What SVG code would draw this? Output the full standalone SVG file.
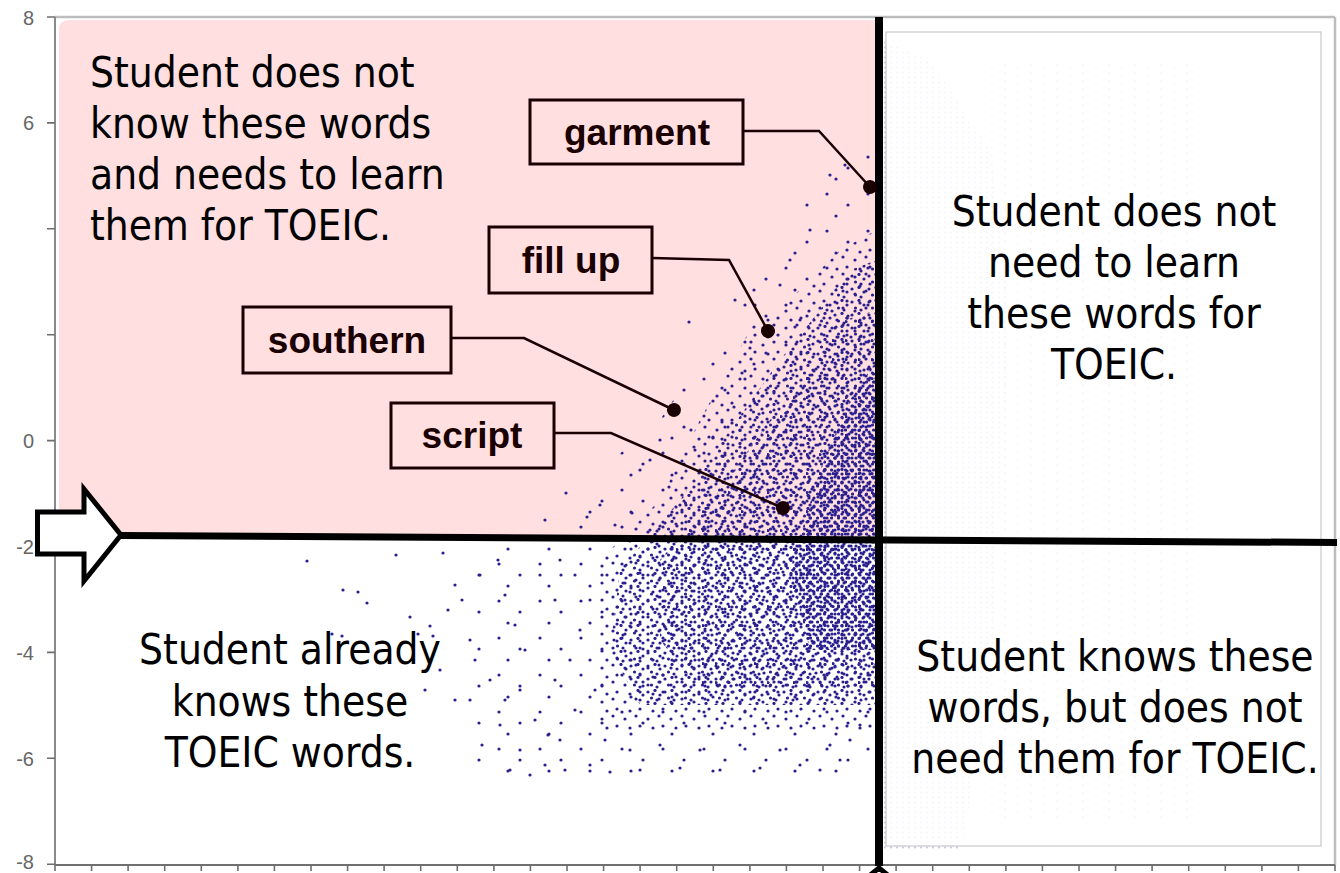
<svg xmlns="http://www.w3.org/2000/svg" width="1340" height="873" viewBox="0 0 1340 873">
<style>
.q{font-family:"DejaVu Sans Condensed","Liberation Sans",Arial,sans-serif;font-size:42px;fill:#000}
.c{text-anchor:middle}
.tag{font-family:"Liberation Sans",Arial,sans-serif;font-weight:bold;font-size:37px;fill:#1a0000;text-anchor:middle}
.box{fill:#ffdfdf;stroke:#1a0000;stroke-width:3}
.lead{fill:none;stroke:#1a0000;stroke-width:2.5;marker-end:url(#dot)}
.ax{font-family:"Liberation Sans",Arial,sans-serif;font-size:20px;fill:#666;text-anchor:end}
.sd{fill:#2a1f8f}
.tk{stroke:#6e6e6e;stroke-width:1.6}
</style>
<defs>
<marker id="dot" viewBox="-7.5 -7.5 15 15" markerWidth="15" markerHeight="15" markerUnits="userSpaceOnUse" refX="0" refY="0" orient="auto"><circle r="7" fill="#1a0000"/></marker>
<pattern id="p1" width="17" height="13" patternUnits="userSpaceOnUse"><circle class="sd" cx="2" cy="3" r="1.6"/><circle class="sd" cx="9" cy="1.5" r="1.6"/><circle class="sd" cx="14" cy="6" r="1.6"/><circle class="sd" cx="5.5" cy="9" r="1.6"/><circle class="sd" cx="11" cy="11" r="1.6"/></pattern>
<pattern id="p2" width="13" height="19" patternUnits="userSpaceOnUse"><circle class="sd" cx="3" cy="2" r="1.6"/><circle class="sd" cx="10" cy="8" r="1.6"/><circle class="sd" cx="6" cy="14" r="1.6"/><circle class="sd" cx="1" cy="17.5" r="1.6"/></pattern>
<pattern id="p3" width="23" height="17" patternUnits="userSpaceOnUse"><circle class="sd" cx="4" cy="5" r="1.6"/><circle class="sd" cx="15" cy="2" r="1.6"/><circle class="sd" cx="19" cy="12" r="1.6"/><circle class="sd" cx="9" cy="14" r="1.6"/></pattern>
<pattern id="p4" width="41" height="37" patternUnits="userSpaceOnUse"><circle class="sd" cx="7" cy="9" r="1.6"/><circle class="sd" cx="28" cy="20" r="1.6"/><circle class="sd" cx="16" cy="31" r="1.6"/></pattern>
<pattern id="p5" width="7" height="8" patternUnits="userSpaceOnUse"><circle class="sd" cx="2" cy="2" r="1.6"/><circle class="sd" cx="5.5" cy="6" r="1.6"/></pattern>
<pattern id="pf" width="6" height="5" patternUnits="userSpaceOnUse"><circle cx="3" cy="2.5" r="1.1" fill="#c4c4e4"/></pattern>
<pattern id="pc" width="26" height="8" patternUnits="userSpaceOnUse"><circle cx="4" cy="4" r="1.1" fill="#c4c4e4"/><circle cx="17" cy="1" r="1.1" fill="#c4c4e4"/></pattern>
</defs>
<rect width="1340" height="873" fill="#fff"/>

<!-- faint data right of the split -->
<g id="faint-data">
<polygon points="879,40 930,60 990,150 1010,300 1000,500 990,700 960,850 879,850" fill="url(#pf)" opacity="0.9"/>
<polygon points="990,60 1200,60 1200,820 990,820" fill="url(#pc)" opacity="0.6"/>
</g>

<!-- pink quadrant -->
<path id="learn-zone" d="M59,30 Q59,20 69,20 L875,20 L875,537 L59,533 Z" fill="#ffdfdf"/>

<!-- scatter data -->
<g id="scatter">
<polygon points="470,548 560,540 600,470 660,420 720,330 790,230 830,160 877,150 877,778 600,782 470,778" fill="url(#p4)"/>
<polygon points="600,560 660,500 700,420 750,330 800,290 840,250 877,230 877,730 600,730" fill="url(#p3)"/>
<polygon points="620,570 680,500 730,430 780,360 820,310 850,270 877,260 877,705 640,705 610,650" fill="url(#p1)"/>
<polygon points="660,560 720,490 770,420 810,370 845,320 877,310 877,690 700,690 660,640" fill="url(#p2)"/>
<polygon points="790,570 820,470 850,400 877,360 877,650 810,650" fill="url(#p5)"/>
<g class="sd">
<circle cx="307" cy="561" r="1.6"/><circle cx="396" cy="555" r="1.6"/><circle cx="443" cy="553" r="1.6"/><circle cx="343" cy="590" r="1.6"/><circle cx="358" cy="592" r="1.6"/><circle cx="367" cy="603" r="1.6"/><circle cx="410" cy="617" r="1.6"/><circle cx="430" cy="626" r="1.6"/><circle cx="418" cy="634" r="1.6"/><circle cx="433" cy="636" r="1.6"/><circle cx="332" cy="634" r="1.6"/><circle cx="342" cy="636" r="1.6"/><circle cx="448" cy="610" r="1.6"/><circle cx="455" cy="585" r="1.6"/><circle cx="470" cy="640" r="1.6"/><circle cx="462" cy="600" r="1.6"/><circle cx="480" cy="575" r="1.6"/><circle cx="498" cy="560" r="1.6"/><circle cx="505" cy="595" r="1.6"/><circle cx="515" cy="625" r="1.6"/><circle cx="525" cy="650" r="1.6"/><circle cx="490" cy="680" r="1.6"/><circle cx="505" cy="700" r="1.6"/><circle cx="520" cy="690" r="1.6"/><circle cx="535" cy="720" r="1.6"/><circle cx="548" cy="735" r="1.6"/><circle cx="520" cy="750" r="1.6"/><circle cx="545" cy="765" r="1.6"/><circle cx="560" cy="740" r="1.6"/><circle cx="575" cy="710" r="1.6"/><circle cx="500" cy="725" r="1.6"/><circle cx="482" cy="745" r="1.6"/><circle cx="470" cy="700" r="1.6"/><circle cx="510" cy="770" r="1.6"/><circle cx="530" cy="775" r="1.6"/><circle cx="565" cy="770" r="1.6"/><circle cx="590" cy="765" r="1.6"/><circle cx="610" cy="772" r="1.6"/><circle cx="640" cy="770" r="1.6"/><circle cx="680" cy="768" r="1.6"/><circle cx="720" cy="770" r="1.6"/><circle cx="760" cy="768" r="1.6"/><circle cx="800" cy="765" r="1.6"/><circle cx="820" cy="770" r="1.6"/><circle cx="840" cy="760" r="1.6"/><circle cx="475" cy="660" r="1.6"/><circle cx="455" cy="700" r="1.6"/><circle cx="440" cy="670" r="1.6"/><circle cx="425" cy="690" r="1.6"/><circle cx="560" cy="560" r="1.6"/><circle cx="575" cy="575" r="1.6"/><circle cx="540" cy="575" r="1.6"/><circle cx="555" cy="600" r="1.6"/><circle cx="580" cy="630" r="1.6"/><circle cx="590" cy="600" r="1.6"/><circle cx="570" cy="660" r="1.6"/><circle cx="555" cy="680" r="1.6"/><circle cx="595" cy="690" r="1.6"/><circle cx="605" cy="740" r="1.6"/><circle cx="630" cy="750" r="1.6"/><circle cx="660" cy="745" r="1.6"/><circle cx="700" cy="750" r="1.6"/><circle cx="740" cy="745" r="1.6"/><circle cx="780" cy="750" r="1.6"/><circle cx="830" cy="745" r="1.6"/><circle cx="850" cy="740" r="1.6"/><circle cx="860" cy="725" r="1.6"/>
<circle cx="566" cy="493" r="1.6"/><circle cx="587" cy="517" r="1.6"/><circle cx="632" cy="513" r="1.6"/><circle cx="669" cy="487" r="1.6"/><circle cx="691" cy="430" r="1.6"/><circle cx="713" cy="437" r="1.6"/><circle cx="722" cy="420" r="1.6"/><circle cx="734" cy="407" r="1.6"/><circle cx="732" cy="423" r="1.6"/><circle cx="689" cy="322" r="1.6"/><circle cx="750" cy="348" r="1.6"/><circle cx="742" cy="373" r="1.6"/><circle cx="758" cy="393" r="1.6"/><circle cx="600" cy="505" r="1.6"/><circle cx="615" cy="525" r="1.6"/><circle cx="650" cy="530" r="1.6"/><circle cx="545" cy="520" r="1.6"/><circle cx="700" cy="470" r="1.6"/><circle cx="710" cy="495" r="1.6"/><circle cx="680" cy="505" r="1.6"/><circle cx="650" cy="460" r="1.6"/><circle cx="735" cy="300" r="1.6"/><circle cx="755" cy="305" r="1.6"/><circle cx="780" cy="285" r="1.6"/><circle cx="790" cy="260" r="1.6"/><circle cx="810" cy="230" r="1.6"/><circle cx="830" cy="175" r="1.6"/><circle cx="845" cy="165" r="1.6"/><circle cx="800" cy="320" r="1.6"/><circle cx="770" cy="330" r="1.6"/><circle cx="725" cy="455" r="1.6"/><circle cx="695" cy="450" r="1.6"/><circle cx="660" cy="440" r="1.6"/><circle cx="640" cy="470" r="1.6"/>
</g>
</g>

<!-- white quadrant panel -->
<rect id="panel" x="886" y="32" width="435" height="814" fill="#fff" fill-opacity="0.8" stroke="#c8c8c8" stroke-width="1.2"/>

<!-- axes -->
<g id="axes">
<line x1="55" y1="17" x2="1335" y2="17" stroke="#bdbdbd" stroke-width="2.5"/>
<line x1="1335" y1="17" x2="1335" y2="865" stroke="#bdbdbd" stroke-width="2.5"/>
<line x1="55" y1="17" x2="55" y2="865" stroke="#8a8a8a" stroke-width="2"/>
<line x1="55" y1="865" x2="1335" y2="865" stroke="#707070" stroke-width="2"/>
<path class="tk" d="M47,17H55M47,122.9H55M47,228.8H55M47,334.7H55M47,440.6H55M47,546.5H55M47,652.4H55M47,758.3H55M47,864.2H55"/>
<path class="tk" d="M55,865v6M91.6,865v6M128.1,865v6M164.7,865v6M201.3,865v6M237.9,865v6M274.4,865v6M311,865v6M347.6,865v6M384.1,865v6M420.7,865v6M457.3,865v6M493.9,865v6M530.4,865v6M567,865v6M603.6,865v6M640.1,865v6M676.7,865v6M713.3,865v6M749.9,865v6M786.4,865v6M823,865v6M859.6,865v6M896.1,865v6M932.7,865v6M969.3,865v6M1005.9,865v6M1042.4,865v6M1079,865v6M1115.6,865v6M1152.1,865v6M1188.7,865v6M1225.3,865v6M1261.9,865v6M1298.4,865v6M1335,865v6"/>
<text class="ax" x="34" y="25">8</text>
<text class="ax" x="34" y="130">6</text>
<text class="ax" x="34" y="448">0</text>
<text class="ax" x="34" y="554">-2</text>
<text class="ax" x="34" y="660">-4</text>
<text class="ax" x="34" y="766">-6</text>
<text class="ax" x="34" y="869">-8</text>
</g>

<!-- threshold lines and arrows -->
<g id="thresholds">
<line x1="121" y1="535.5" x2="1337" y2="542.5" stroke="#000" stroke-width="7"/>
<line x1="879" y1="17" x2="879" y2="866" stroke="#000" stroke-width="8"/>
<polygon points="37.5,512 84,512 84,489 121,535 84,581 84,554 37.5,554" fill="#fff" stroke="#000" stroke-width="5"/>
<polygon points="879,868 925,905 900,905 900,960 858,960 858,905 833,905" fill="#fff" stroke="#000" stroke-width="5"/>
</g>

<!-- quadrant captions -->
<g id="q-top-left">
<text class="q" x="90" y="87">Student does not</text>
<text class="q" x="90" y="138">know these words</text>
<text class="q" x="90" y="189">and needs to learn</text>
<text class="q" x="90" y="240">them for TOEIC.</text>
</g>
<g id="q-bottom-left">
<text class="q c" x="290" y="664">Student already</text>
<text class="q c" x="290" y="716">knows these</text>
<text class="q c" x="290" y="767">TOEIC words.</text>
</g>
<g id="q-top-right">
<text class="q c" x="1114" y="226">Student does not</text>
<text class="q c" x="1114" y="277">need to learn</text>
<text class="q c" x="1114" y="328">these words for</text>
<text class="q c" x="1114" y="379">TOEIC.</text>
</g>
<g id="q-bottom-right">
<text class="q c" x="1115" y="671">Student knows these</text>
<text class="q c" x="1115" y="722">words, but does not</text>
<text class="q c" x="1115" y="773">need them for TOEIC.</text>
</g>

<!-- connectors -->
<g id="connectors">
<path class="lead" d="M743,131 L819,131 L870,187"/>
<path class="lead" d="M652,258 L729,260 L768,331"/>
<path class="lead" d="M451,338 L524,338 L674,410"/>
<path class="lead" d="M554,433 L611,433 L783,508"/>
</g>

<!-- word callouts -->
<g id="garment"><rect class="box" x="530" y="100" width="213" height="64"/><text class="tag" x="637" y="145">garment</text></g>
<g id="fill-up"><rect class="box" x="489" y="227" width="163" height="66"/><text class="tag" x="571" y="273">fill up</text></g>
<g id="southern"><rect class="box" x="243" y="307" width="208" height="66"/><text class="tag" x="347" y="353">southern</text></g>
<g id="script"><rect class="box" x="391" y="403" width="163" height="65"/><text class="tag" x="472" y="448">script</text></g>
</svg>
